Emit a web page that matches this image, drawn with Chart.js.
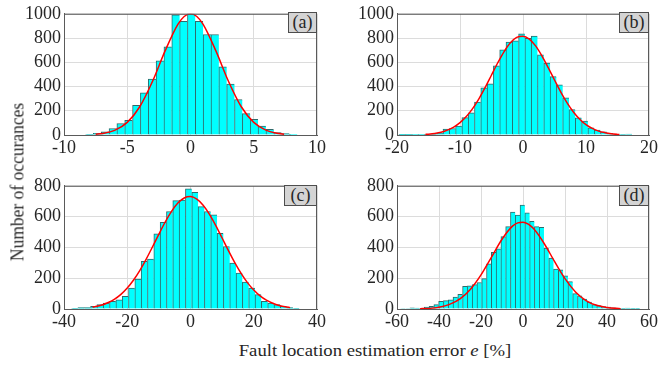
<!DOCTYPE html>
<html lang="en">
<head>
    <meta charset="UTF-8">
    <meta name="viewport" content="width=device-width, initial-scale=1.0">
    <title>Fault location estimation error</title>
    <script src="https://cdn.jsdelivr.net/npm/chart.js"></script>
    <style>
        body { margin: 0; background: #fff; }
        #wrap { position: relative; width: 660px; height: 369px; color: #262626; }
        #wrap div { font-family: "Liberation Serif"; }
        canvas { position: absolute; }
        #chartA { left: 0; top: 0; }
        #chartB { left: 333px; top: 0; }
        #chartC { left: 0; top: 172px; }
        #chartD { left: 333px; top: 172px; }
        .tag { position: absolute; height: 21px; background: #d4d4d4; border: 1px solid #4d4d4d; box-sizing: border-box; font-size: 18px; line-height: 19px; text-align: center; }
        #ytitle { position: absolute; left: 17px; top: 182px; transform: translate(-50%, -50%) rotate(-90deg) scaleY(1.1); white-space: nowrap; font-size: 17.5px; }
        #xtitle { position: absolute; left: 375px; top: 351px; transform: translate(-50%, -50%) scaleX(1.1); white-space: nowrap; font-size: 17px; }
    </style>
    <script>
        // histogram bin centres and counts
        const binsA = [-7.99, -7.37, -6.75, -6.13, -5.51, -4.89, -4.27, -3.65, -3.03, -2.41, -1.79, -1.17, -0.55, 0.07, 0.69, 1.31, 1.93, 2.55, 3.17, 3.79, 4.41, 5.03, 5.65, 6.27, 6.89, 7.51, 8.13];
        const countsA = [5, 14, 27, 54, 95, 122, 245, 348, 462, 611, 728, 992, 937, 1000, 937, 829, 829, 563, 421, 293, 177, 130, 73, 46, 19, 11, 3];

        const binsB = [-19.2, -18.2, -17.2, -16.2, -15.2, -14.2, -13.2, -12.2, -11.2, -10.2, -9.2, -8.2, -7.2, -6.2, -5.2, -4.2, -3.2, -2.2, -1.2, -0.2, 0.8, 1.8, 2.8, 3.8, 4.8, 5.8, 6.8, 7.8, 8.8, 9.8, 10.8, 11.8, 12.8, 13.8, 14.8, 15.8, 16.8, 17.8];
        const countsB = [1, 1, 2, 2, 3, 5, 14, 49, 54, 73, 144, 182, 272, 389, 422, 571, 702, 767, 776, 835, 797, 816, 661, 593, 482, 414, 307, 210, 141, 114, 60, 41, 27, 14, 5, 5, 8, 0];

        const binsC = [-36.6, -34.6, -32.6, -30.6, -28.6, -26.6, -24.6, -22.6, -20.6, -18.6, -16.6, -14.6, -12.6, -10.6, -8.6, -6.6, -4.6, -2.6, -0.6, 1.4, 3.4, 5.4, 7.4, 9.4, 11.4, 13.4, 15.4, 17.4, 19.4, 21.4, 23.4, 25.4, 27.4, 29.4, 31.4, 33.4];
        const countsC = [4, 9, 9, 17, 28, 39, 50, 60, 82, 136, 194, 309, 324, 488, 562, 633, 704, 708, 780, 758, 665, 633, 611, 492, 406, 298, 233, 175, 136, 93, 50, 39, 28, 17, 9, 2];

        const binsD = [-57.27, -54.99, -52.71, -50.43, -48.15, -45.87, -43.59, -41.31, -39.03, -36.75, -34.47, -32.19, -29.91, -27.63, -25.35, -23.07, -20.79, -18.51, -16.23, -13.95, -11.67, -9.39, -7.11, -4.83, -2.55, -0.27, 2.01, 4.29, 6.57, 8.85, 11.13, 13.41, 15.69, 17.97, 20.25, 22.53, 24.81, 27.09, 29.37, 31.65, 33.93, 36.21, 38.49, 40.77, 43.05, 45.33, 47.61, 49.89, 52.17, 54.45];
        const countsD = [3, 3, 7, 6, 5, 12, 18, 28, 50, 54, 60, 77, 95, 148, 150, 158, 172, 197, 294, 368, 390, 470, 535, 630, 610, 675, 625, 570, 535, 530, 395, 330, 260, 255, 215, 178, 100, 86, 65, 45, 28, 22, 16, 12, 8, 4, 4, 6, 2, 4];

        // fitted curve
        const fitXA = [-7.5, -7, -6, -5, -4, -3, -2, -1, -0.5, 0, 0.5, 1, 2, 3, 4, 5, 6, 7, 7.4];
        const fitYA = [6, 12, 38, 104, 235, 443, 696, 913, 978, 1000, 978, 913, 696, 443, 235, 104, 38, 12, 7];

        const fitXB = [-15.5, -15, -14, -13, -12, -11, -10, -9, -8, -7, -6, -5, -4, -3, -2, -1, 0, 1, 2, 3, 4, 5, 6, 7, 8, 9, 10, 11, 12, 13, 14, 15, 15.3];
        const fitYB = [5, 7, 13, 23, 40, 65, 102, 152, 218, 299, 393, 495, 596, 688, 761, 805, 815, 791, 735, 653, 556, 454, 354, 265, 190, 130, 85, 54, 32, 19, 10, 5, 4];

        const fitXC = [-31, -28, -26, -24, -22, -20, -18, -16, -14, -12, -10, -8, -6, -4, -2, 0, 2, 4, 6, 8, 10, 12, 14, 16, 18, 20, 22, 24, 26, 28, 31.5];
        const fitYC = [12, 26, 42, 64, 95, 136, 188, 251, 324, 404, 486, 565, 634, 688, 721, 730, 713, 674, 615, 542, 461, 379, 301, 231, 171, 123, 85, 57, 37, 23, 9];

        const fitXD = [-49, -45, -40, -35, -30, -25, -20, -15, -10, -5, -2.5, 0, 2.5, 5, 10, 15, 20, 25, 30, 35, 40, 46.5];
        const fitYD = [2, 4, 12, 30, 66, 129, 222, 337, 453, 538, 559, 564, 551, 522, 427, 309, 197, 111, 55, 24, 10, 2];

        // axis ranges and tick steps
        const xRanges = [[-10, 10, 5], [-20, 20, 10], [-40, 40, 20], [-60, 60, 20]];
        const yRanges = [[0, 1000, 200], [0, 1000, 200], [0, 800, 200], [0, 800, 200]];

        const tickFont = { family: 'Liberation Serif', size: 18 };

        const boxPlugin = {
            id: 'box',
            afterDraw(chart) {
                const a = chart.chartArea, ctx = chart.ctx;
                ctx.save();
                ctx.strokeStyle = '#5a5a5a';
                ctx.lineWidth = 1;
                ctx.beginPath();
                ctx.moveTo(a.left, a.top + 0.5);
                ctx.lineTo(a.right - 0.5, a.top + 0.5);
                ctx.lineTo(a.right - 0.5, a.bottom);
                ctx.stroke();
                ctx.restore();
            }
        };

        function makePanel(id, bins, counts, fitX, fitY, xr, yr, padTop, padRight, xHeight) {
            const ctx = document.getElementById(id).getContext('2d');
            new Chart(ctx, {
                type: 'bar',
                data: {
                    datasets: [{
                        type: 'line',
                        data: fitX.map((x, i) => ({ x: x, y: fitY[i] })),
                        borderColor: '#ff0000',
                        borderWidth: 1.5,
                        pointRadius: 0,
                        cubicInterpolationMode: 'monotone',
                        order: 0
                    }, {
                        data: bins.map((x, i) => ({ x: x, y: counts[i] })),
                        backgroundColor: '#00ffff',
                        borderColor: '#2f6b6b',
                        borderWidth: { left: 1, top: 1, right: 0, bottom: 0 },
                        borderSkipped: false,
                        barPercentage: 1,
                        categoryPercentage: 1,
                        order: 1
                    }]
                },
                options: {
                    responsive: false,
                    animation: false,
                    events: [],
                    layout: { padding: { left: 0, top: padTop, right: padRight, bottom: 0 } },
                    plugins: { legend: { display: false }, tooltip: { enabled: false } },
                    scales: {
                        x: {
                            type: 'linear',
                            min: xr[0], max: xr[1],
                            offset: false,
                            grid: { color: '#dcdcdc', drawTicks: false, offset: false },
                            border: { color: '#5a5a5a' },
                            ticks: { stepSize: xr[2], autoSkip: false, padding: 2, maxRotation: 0, color: '#262626', font: tickFont, callback: v => String(v) },
                            afterFit: s => { s.height = xHeight; }
                        },
                        y: {
                            min: yr[0], max: yr[1],
                            grid: { color: '#dcdcdc', drawTicks: false },
                            border: { color: '#5a5a5a' },
                            ticks: { stepSize: yr[2], autoSkip: false, padding: 3, color: '#262626', font: tickFont, callback: v => String(v) },
                            afterFit: s => { s.width = 64; }
                        }
                    }
                },
                plugins: [boxPlugin]
            });
        }

        document.addEventListener('DOMContentLoaded', function() {
            makePanel('chartA', binsA, countsA, fitXA, fitYA, xRanges[0], yRanges[0], 12, 13, 30);
            makePanel('chartB', binsB, countsB, fitXB, fitYB, xRanges[1], yRanges[1], 12, 11, 30);
            makePanel('chartC', binsC, countsC, fitXC, fitYC, xRanges[2], yRanges[2], 13, 13, 28);
            makePanel('chartD', binsD, countsD, fitXD, fitYD, xRanges[3], yRanges[3], 13, 11, 28);
        });
    </script>
</head>
<body>
<div id="wrap">
    <canvas id="chartA" width="330" height="165"></canvas>
    <canvas id="chartB" width="327" height="165"></canvas>
    <canvas id="chartC" width="330" height="165"></canvas>
    <canvas id="chartD" width="327" height="165"></canvas>
    <div class="tag" style="left:288px; top:12px; width:29px;">(a)</div>
    <div class="tag" style="left:619px; top:12px; width:30px;">(b)</div>
    <div class="tag" style="left:284px; top:185px; width:33px;">(c)</div>
    <div class="tag" style="left:619px; top:185px; width:30px;">(d)</div>
    <div id="ytitle">Number of occurances</div>
    <div id="xtitle">Fault location estimation error <i>e</i> [%]</div>
</div>
</body>
</html>
